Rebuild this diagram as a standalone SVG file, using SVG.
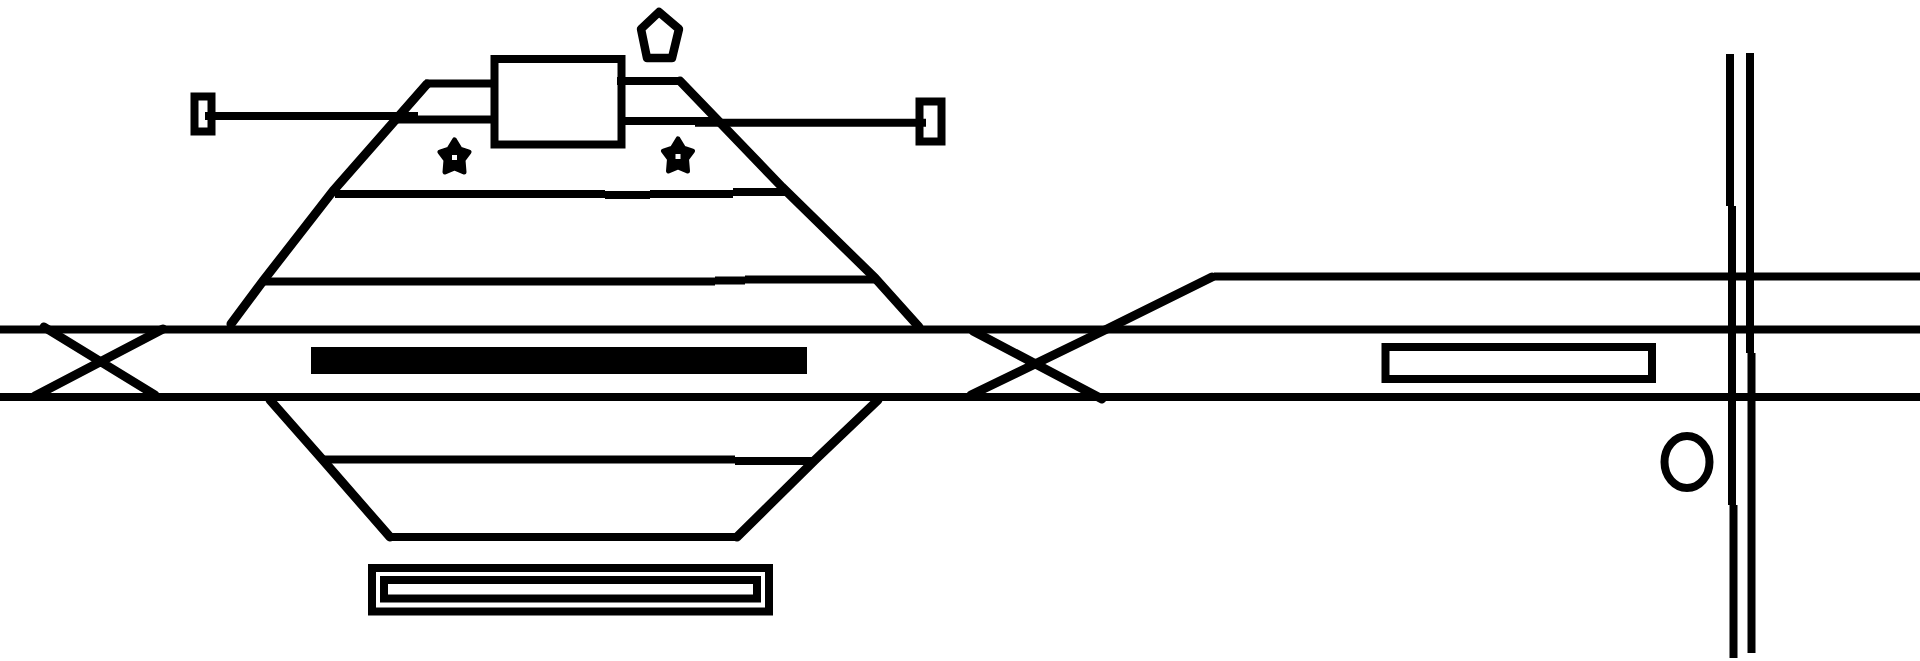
<svg xmlns="http://www.w3.org/2000/svg" width="1920" height="661" viewBox="0 0 1920 661">
<style>
.l{fill:none;stroke:#000;stroke-width:8;stroke-linejoin:round}
.d{fill:none;stroke:#000;stroke-width:9;stroke-linejoin:round;stroke-linecap:round}
.b{fill:none;stroke:#000;stroke-width:8;stroke-linejoin:miter}
.s{fill:#000;stroke:#000;stroke-width:5;stroke-linejoin:round}
.h{fill:#fff}
</style>
<rect width="1920" height="661" fill="#fff"/>
<g id="connectors">
<path class="l" d="M0 329.500H1920M0 397H1920M1214 276.500H1920"/>
<path class="d" d="M44 327L155 395M35 396L163 329"/>
<path class="d" d="M973 331L1102 399M971 395L1107 329L1212 277"/>
<path class="d" d="M231 324L263 281L333 191L427 84"/>
<path class="l" d="M425 83.500H491"/>
<path class="l" d="M617 81H680"/>
<path class="d" d="M680 81L782 187L875 278L919 327"/>
<path class="l" d="M335 194H605M605 195H650M650 194H733M733 192H785"/>
<path class="l" d="M263 281.500H715M715 280.500H745M745 279.500H877"/>
<path class="l" d="M205 116H418M397 119.500H491"/>
<path class="l" d="M625 121H720M695 122.700H926"/>
<path class="d" d="M270 400L322 459L390 537"/>
<path class="l" d="M388 537H739"/>
<path class="d" d="M737 537L815 460L878 400"/>
<path class="l" d="M322 459.500H735M735 461H815"/>
<path class="l" d="M1730 54V206M1732 206V505M1733.500 505V658"/>
<path class="l" d="M1750 53V353M1751.500 353V653"/>
</g>
<g id="signal-box"><rect class="b" x="494.500" y="59" width="127" height="85.500"/></g>
<g id="buffer-left"><rect class="b" x="194.500" y="96.500" width="17" height="35"/></g>
<g id="buffer-right"><rect class="b" x="919.500" y="101.500" width="22" height="40"/></g>
<g id="pentagon"><polygon class="l" points="659,12 679,29 672,58 647,58 641,29" style="stroke-width:8.500"/></g>
<g id="star-left">
<polygon class="s" points="454.500,140 460,149 469,152 463,160 464,172 454.500,168 445,172 446,160 440,152 449,149"/>
<rect class="h" x="452" y="155" width="5" height="5"/>
</g>
<g id="star-right">
<polygon class="s" points="678,139 683.500,148 692.500,151 686.500,159 687.500,171 678,167 668.500,171 669.500,159 663.500,151 672.500,148"/>
<rect class="h" x="675.500" y="154" width="5" height="5"/>
</g>
<g id="platform-solid"><rect x="311" y="347" width="496" height="27" fill="#000"/></g>
<g id="platform-double">
<rect class="b" x="372" y="568" width="397" height="43.500"/>
<rect class="b" x="384" y="580" width="373" height="18.500"/>
</g>
<g id="platform-right"><rect class="b" x="1385.500" y="347" width="266.500" height="32"/></g>
<g id="circle"><ellipse class="l" cx="1687" cy="462" rx="22.500" ry="26"/></g>
</svg>
